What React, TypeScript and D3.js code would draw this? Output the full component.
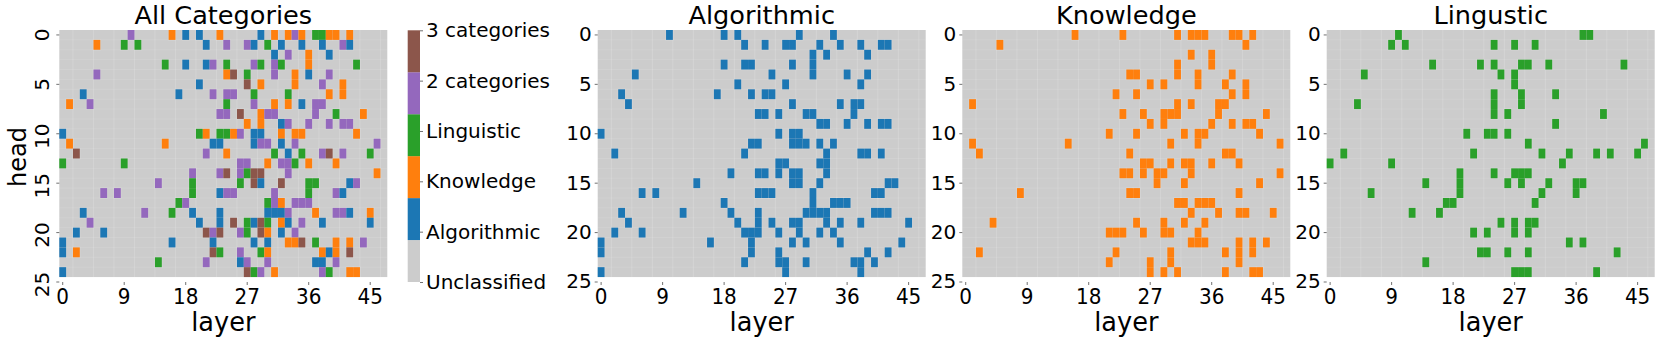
import React, { useEffect, useRef } from 'react';
import * as d3 from 'd3';

// Layers hit per head (row index = head).
const algorithmic: number[][] = [
  [10, 18, 20, 29, 34],
  [21, 24, 27, 28, 32, 35, 38, 41, 42],
  [31, 33, 39],
  [18, 21, 22, 28, 31],
  [5, 25, 31, 36, 39],
  [20, 27, 38],
  [3, 17, 22, 24, 25],
  [4, 28, 35, 37, 38],
  [23, 24, 26, 30, 31, 37],
  [32, 33, 36, 39, 41, 42],
  [0, 26, 28, 29],
  [22, 23, 28, 29, 30, 32, 34],
  [2, 21, 33, 38, 39, 41],
  [26, 27, 32, 33],
  [19, 23, 24, 26, 28, 29, 33],
  [14, 28, 29, 32, 42, 43],
  [6, 8, 23, 24, 25, 31, 40, 41],
  [18, 31, 34, 35, 36],
  [3, 12, 19, 23, 30, 31, 32, 33, 40, 41, 42],
  [4, 20, 23, 25, 28, 29, 33, 35, 38, 45],
  [2, 6, 21, 22, 23, 26, 29, 32, 34],
  [0, 16, 22, 28, 30, 35, 44],
  [0, 22, 26, 39, 42],
  [21, 26, 27, 30, 37, 38, 40],
  [0, 27, 38],
];

const knowledge: number[][] = [
  [16, 23, 31, 33, 34, 35, 39, 40, 42],
  [5, 41],
  [33, 36],
  [31, 36],
  [24, 25, 31, 34, 39],
  [27, 29, 34, 38, 41],
  [22, 25, 39, 41],
  [1, 31, 33, 37, 38],
  [23, 26, 29, 30, 31, 37, 44],
  [27, 29, 36, 39, 41, 42],
  [21, 25, 32, 34, 35, 43],
  [1, 15, 30, 34, 46],
  [2, 24, 38, 39],
  [26, 27, 30, 32, 33, 36, 40],
  [23, 24, 26, 28, 29, 33, 46],
  [28, 32, 43],
  [8, 24, 25, 40],
  [31, 32, 34, 35, 36],
  [33, 37, 40, 41, 45],
  [4, 25, 29, 32, 35],
  [21, 22, 23, 26, 29, 30, 34],
  [33, 34, 35, 40, 42, 44],
  [2, 22, 30, 38, 40, 42],
  [21, 27, 30, 40],
  [27, 29, 31, 38, 42, 43],
];

const linguistic: number[][] = [
  [10, 37, 38],
  [9, 11, 24, 27, 30],
  [],
  [15, 22, 24, 28, 29, 32, 43],
  [5, 25, 27],
  [27],
  [24, 28, 33],
  [4, 24, 28],
  [24, 26, 40],
  [33],
  [20, 23, 24, 26],
  [29, 46],
  [2, 21, 31, 35, 39, 41, 45],
  [0, 9, 34],
  [19, 24, 27, 28, 29],
  [14, 19, 26, 28, 32, 36, 37],
  [6, 19, 31, 36],
  [17, 18, 30],
  [12, 16],
  [25, 27, 29, 30],
  [21, 23, 27, 29],
  [35, 37],
  [22, 23, 26, 29, 42],
  [14],
  [27, 28, 29, 39],
];

const legendLabels = ['Unclassified', 'Algorithmic', 'Knowledge', 'Linguistic', '2 categories', '3 categories'];
const legendColors = ['#cccccc', '#1f77b4', '#ff7f0e', '#2ca02c', '#9467bd', '#8c564b'];
const layerTicks = [0, 9, 18, 27, 36, 45];
const headTicks = [0, 5, 10, 15, 20, 25];
const LAYERS = 48;
const HEADS = 25;
const FONT = '"DejaVu Sans", sans-serif';

// Each category keeps its colour; the overview colours a cell by how many categories hit it.
const singlePanels = [
  { title: 'Algorithmic', rows: algorithmic, color: legendColors[1], left: 597.7 },
  { title: 'Knowledge', rows: knowledge, color: legendColors[2], left: 962.3 },
  { title: 'Lingustic', rows: linguistic, color: legendColors[3], left: 1326.7 },
];

type Cell = { layer: number; head: number; color: string };

const overviewCells = (): Cell[] => {
  const cells: Cell[] = [];
  d3.range(HEADS).forEach((head) => {
    d3.range(LAYERS).forEach((layer) => {
      const hits = [algorithmic, knowledge, linguistic].map((rows) => rows[head].includes(layer));
      const count = hits.filter(Boolean).length;
      if (count === 0) return;
      const color = count === 1 ? legendColors[hits.indexOf(true) + 1] : legendColors[count + 2];
      cells.push({ layer, head, color });
    });
  });
  return cells;
};

const App = () => {
  const svgRef = useRef<SVGSVGElement>(null);

  useEffect(() => {
    const svg = d3.select(svgRef.current);
    svg.selectAll('*').remove();

    const width = 1660;
    const height = 342;
    const top = 30;
    const bottom = 282;
    const panelWidth = 328;

    svg.attr('width', width).attr('height', height);

    // The reference is a slightly soft raster, so marks get a small blur.
    svg
      .append('defs')
      .append('filter')
      .attr('id', 'soft')
      .attr('x', '-2%')
      .attr('y', '-2%')
      .attr('width', '104%')
      .attr('height', '104%')
      .append('feGaussianBlur')
      .attr('stdDeviation', 0.45);

    const x = d3.scaleBand<number>().domain(d3.range(LAYERS)).range([0, panelWidth]);
    // One band more than there are heads: the last band stays blank, as in the picture.
    const y = d3.scaleBand<number>().domain(d3.range(HEADS + 1)).range([0, ((bottom - top) * 26) / 25.5]);

    const drawPanel = (left: number, title: string, cells: Cell[], rotateY: boolean) => {
      const g = svg.append('g').attr('transform', `translate(${left},${top})`);
      const plot = g.append('g').attr('filter', 'url(#soft)');

      plot
        .append('rect')
        .attr('width', panelWidth)
        .attr('height', y.step() * HEADS)
        .attr('fill', legendColors[0]);

      // Faint lines showing through the grey background.
      plot
        .selectAll('.vgrid')
        .data(d3.range(2, LAYERS, 3))
        .enter()
        .append('line')
        .attr('x1', (d) => x(d)!)
        .attr('x2', (d) => x(d)!)
        .attr('y2', y.step() * HEADS)
        .attr('stroke', '#fff')
        .attr('stroke-opacity', 0.16);
      plot
        .selectAll('.hgrid')
        .data(d3.range(1, HEADS))
        .enter()
        .append('line')
        .attr('y1', (d) => y(d)!)
        .attr('y2', (d) => y(d)!)
        .attr('x2', panelWidth)
        .attr('stroke', '#fff')
        .attr('stroke-opacity', 0.1);

      // Light ring around the cells, kept under them so neighbours still merge.
      plot
        .selectAll('.halo')
        .data(cells)
        .enter()
        .append('rect')
        .attr('x', (d) => x(d.layer)! - 0.8)
        .attr('y', (d) => y(d.head)! - 0.8)
        .attr('width', x.bandwidth() + 1.6)
        .attr('height', y.bandwidth() + 1.6)
        .attr('fill', '#fff')
        .attr('fill-opacity', 0.12);

      plot
        .selectAll('.cell')
        .data(cells)
        .enter()
        .append('rect')
        .attr('x', (d) => x(d.layer)!)
        .attr('y', (d) => y(d.head)!)
        .attr('width', x.bandwidth())
        .attr('height', y.bandwidth())
        .attr('fill', (d) => d.color);

      const xAxis = g
        .append('g')
        .attr('transform', `translate(0,${bottom - top})`)
        .call(d3.axisBottom(x).tickValues(layerTicks).tickSize(3));
      xAxis.select('.domain').remove();
      xAxis.selectAll('line').attr('stroke', '#333').attr('stroke-width', 0.7);
      // These labels are a bit taller than wide in the reference.
      xAxis
        .selectAll('text')
        .attr('fill', '#000')
        .attr('y', 20.3)
        .attr('dy', 0)
        .attr('transform', 'scale(1,1.1)')
        .style('font-family', FONT)
        .style('font-size', '20px');

      const yAxis = g.append('g').call(d3.axisLeft(y).tickValues(headTicks).tickSize(3).tickPadding(3));
      yAxis.select('.domain').remove();
      yAxis.selectAll('line').attr('stroke', '#333').attr('stroke-width', 0.7);
      yAxis.selectAll('text').attr('fill', '#000').style('font-family', FONT).style('font-size', '20px');
      if (rotateY) {
        // Two-digit labels sit a little lower than their tick in the reference.
        yAxis
          .selectAll('text')
          .attr('x', 0)
          .attr('y', 0)
          .attr('dy', 0)
          .attr('text-anchor', 'middle')
          .attr('transform', (d) => `translate(-10,${(String(d).length - 1) * 2.5}) rotate(-90)`);
      }

      g.append('text')
        .attr('transform', `translate(${panelWidth / 2},${23.5 - top}) scale(1,0.95)`)
        .attr('text-anchor', 'middle')
        .style('font-family', FONT)
        .style('font-size', '25.6px')
        .text(title);

      g.append('text')
        .attr('transform', `translate(${panelWidth / 2},${331 - top}) scale(1,1.07)`)
        .attr('text-anchor', 'middle')
        .style('font-family', FONT)
        .style('font-size', '25.6px')
        .text('layer');
    };

    drawPanel(59.3, 'All Categories', overviewCells(), true);

    singlePanels.forEach((panel) => {
      const cells: Cell[] = panel.rows.flatMap((layers, head) =>
        layers.map((layer) => ({ layer, head, color: panel.color }))
      );
      drawPanel(panel.left, panel.title, cells, false);
    });

    svg
      .append('text')
      .attr('transform', `translate(26,157) rotate(-90) scale(0.94,1)`)
      .attr('text-anchor', 'middle')
      .style('font-family', FONT)
      .style('font-size', '25.6px')
      .text('head');

    // Colour bar: six equal segments, but the six ticks span the same length edge to edge.
    const barLeft = 407.7;
    const barWidth = 12.3;
    const barSegments = d3.scaleBand<string>().domain(legendLabels).range([bottom, top + 0.3]);
    const barTicks = d3.scalePoint<string>().domain(legendLabels).range([bottom, top + 0.3]);
    svg
      .append('g')
      .attr('filter', 'url(#soft)')
      .selectAll('rect')
      .data(legendLabels)
      .enter()
      .append('rect')
      .attr('x', barLeft)
      .attr('y', (d) => barSegments(d)!)
      .attr('width', barWidth)
      .attr('height', barSegments.bandwidth())
      .attr('fill', (d, i) => legendColors[i]);

    const barAxis = svg
      .append('g')
      .attr('transform', `translate(${barLeft + barWidth},0)`)
      .call(d3.axisRight(barTicks).tickSize(3).tickPadding(3));
    barAxis.select('.domain').remove();
    barAxis.selectAll('line').attr('stroke', '#333').attr('stroke-width', 0.7);
    barAxis.selectAll('text').attr('fill', '#000').style('font-family', FONT).style('font-size', '20px');
  }, []);

  return <svg ref={svgRef} style={{ position: 'absolute', left: 0, top: 0, display: 'block' }}></svg>;
};

export default App;
